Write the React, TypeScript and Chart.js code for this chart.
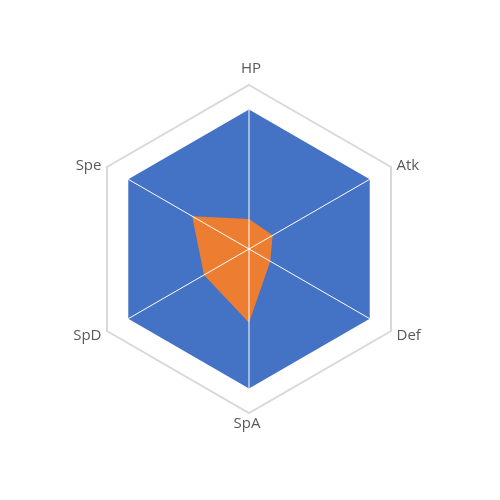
import React, { useEffect, useRef } from "react";
import { Chart, registerables } from "chart.js";

Chart.register(...registerables);

const categories = ["HP", "Atk", "Def", "SpA", "SpD", "Spe"];
const statValues = [55, 50, 45, 135, 95, 120];
const maxValues = [255, 255, 255, 255, 255, 255];
const scaleMax = 300;
const scaleStep = 50;

const angleLinesOnTop = {
  id: "angleLinesOnTop",
  afterDatasetsDraw(chart: any) {
    const scale = chart.scales.r;
    const ctx = chart.ctx;
    ctx.save();
    ctx.strokeStyle = "#ffffff";
    ctx.lineWidth = 1;
    for (let i = 0; i < categories.length; i++) {
      const end = scale.getPointPositionForValue(i, maxValues[i]);
      ctx.beginPath();
      ctx.moveTo(scale.xCenter, scale.yCenter);
      ctx.lineTo(end.x, end.y);
      ctx.stroke();
    }
    ctx.restore();
  },
};

// Draws the axis labels just outside the outer hexagon, placed like the reference
const axisLabels = {
  id: "axisLabels",
  afterDraw(chart: any) {
    const scale = chart.scales.r;
    const ctx = chart.ctx;
    ctx.save();
    ctx.fillStyle = "#595959";
    ctx.font = "15px 'Open Sans', sans-serif";
    ctx.textBaseline = "alphabetic";
    for (let i = 0; i < categories.length; i++) {
      const p = scale.getPointPositionForValue(i, scaleMax);
      const dx = p.x - scale.xCenter;
      const dy = p.y - scale.yCenter;
      let x = p.x;
      let y = p.y;
      if (Math.abs(dx) < 1) {
        ctx.textAlign = "center";
        if (dy < 0) {
          x += 2;
          y -= 12;
        } else {
          x -= 2;
          y += 15;
        }
      } else {
        ctx.textAlign = dx > 0 ? "left" : "right";
        x += dx > 0 ? 5.5 : -5.5;
        y += dy < 0 ? 2.5 : 9;
      }
      ctx.fillText(categories[i], x, y);
    }
    ctx.restore();
  },
};

export default function App() {
  const ref = useRef<HTMLCanvasElement>(null);
  useEffect(() => {
    if (!ref.current) return;
    const chart = new Chart(ref.current, {
      type: "radar",
      data: {
        labels: categories,
        datasets: [
          {
            label: "Stats",
            data: statValues,
            backgroundColor: "#ED7D31",
            borderWidth: 0,
            pointRadius: 0,
            fill: true,
          },
          {
            label: "Max",
            data: maxValues,
            backgroundColor: "#4472C4",
            borderWidth: 0,
            pointRadius: 0,
            fill: true,
          },
        ],
      },
      options: {
        animation: false,
        responsive: false,
        maintainAspectRatio: false,
        layout: { padding: { top: 85, bottom: 87, left: 85, right: 87 } },
        plugins: { legend: { display: false }, tooltip: { enabled: false } },
        scales: {
          r: {
            min: 0,
            max: scaleMax,
            ticks: { display: false, stepSize: scaleStep },
            angleLines: { display: false },
            grid: {
              lineWidth: 2,
              color: (ctx: any) =>
                ctx.tick && ctx.tick.value === scaleMax ? "#D9D9D9" : "rgba(0,0,0,0)",
            },
            pointLabels: { display: false },
          },
        },
      },
      plugins: [angleLinesOnTop, axisLabels],
    });
    return () => chart.destroy();
  }, []);
  return (
    <div style={{ position: "fixed", left: 0, top: 0, width: 500, height: 500, background: "#fff" }}>
      <canvas ref={ref} width={500} height={500} />
    </div>
  );
}
